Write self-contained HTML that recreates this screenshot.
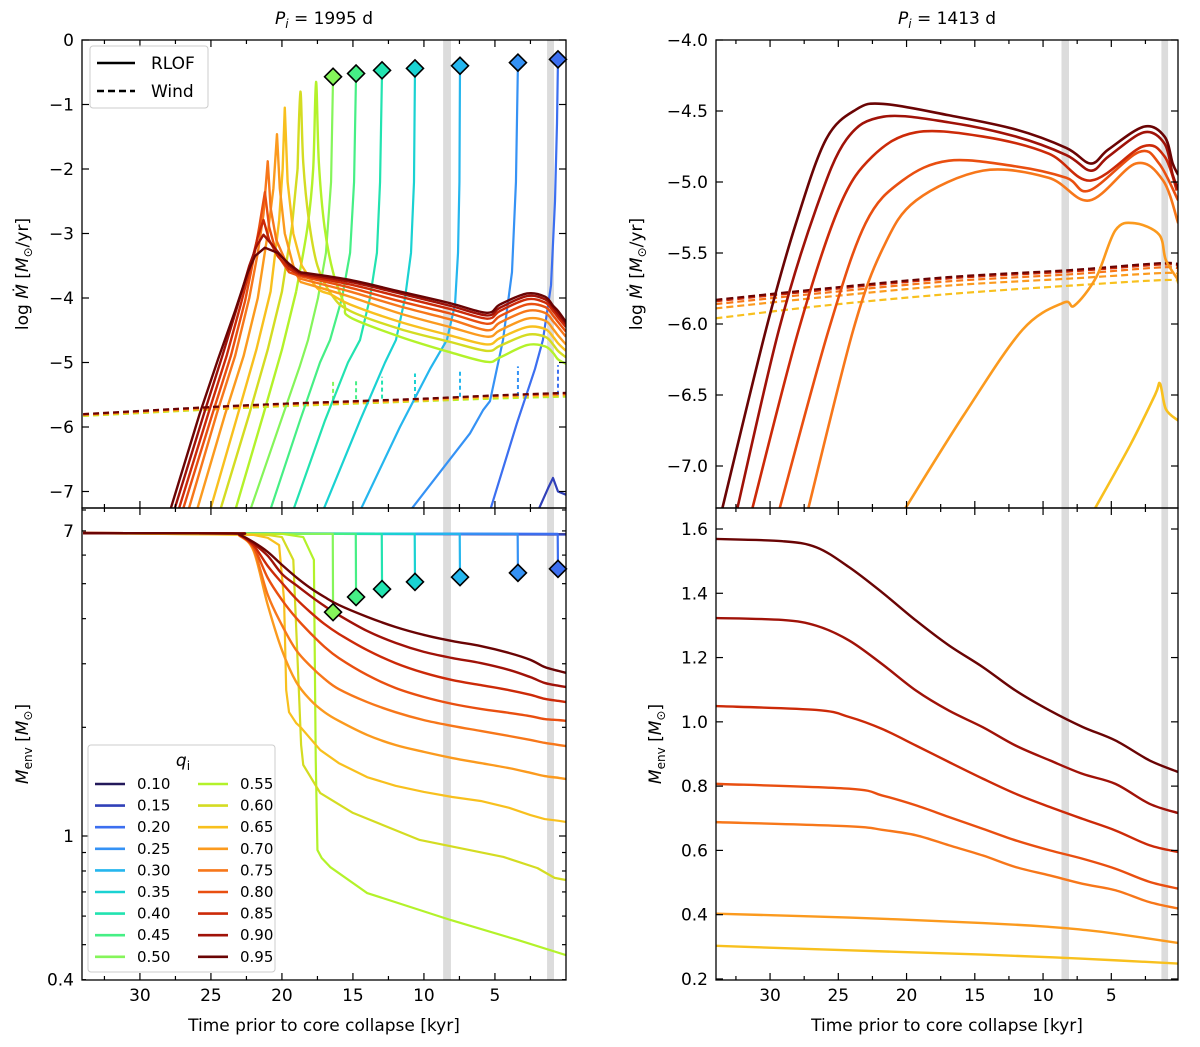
<!DOCTYPE html>
<html><head><meta charset="utf-8"><title>Mass transfer and envelope mass</title>
<style>
html,body{margin:0;padding:0;background:#fff;}
svg{display:block;font-family:"DejaVu Sans","Liberation Sans",sans-serif;}
</style></head>
<body>
<svg id="chart" width="1200" height="1047" viewBox="0 0 1200 1047" xmlns="http://www.w3.org/2000/svg">
<defs>
<clipPath id="c-tl"><rect x="82" y="40" width="484" height="468"/></clipPath>
<clipPath id="c-bl"><rect x="82" y="508" width="484" height="472"/></clipPath>
<clipPath id="c-tr"><rect x="716" y="40" width="462" height="468"/></clipPath>
<clipPath id="c-br"><rect x="716" y="508" width="462" height="472"/></clipPath>
</defs>
<g id="bands"></g>
<g id="series"></g>
<g id="axes"></g>

<text x="324" y="24" font-size="17" text-anchor="middle"><tspan font-style="italic">P</tspan><tspan font-style="italic" font-size="12" dy="4">i</tspan><tspan dy="-4"> = 1995 d</tspan></text>
<text x="947" y="24" font-size="17" text-anchor="middle"><tspan font-style="italic">P</tspan><tspan font-style="italic" font-size="12" dy="4">i</tspan><tspan dy="-4"> = 1413 d</tspan></text>

<text transform="translate(28,274) rotate(-90)" font-size="17" text-anchor="middle">log <tspan font-style="italic">Ṁ</tspan> [<tspan font-style="italic">M</tspan><tspan font-size="12" dy="4">⊙</tspan><tspan dy="-4">/yr]</tspan></text>
<text transform="translate(642,274) rotate(-90)" font-size="17" text-anchor="middle">log <tspan font-style="italic">Ṁ</tspan> [<tspan font-style="italic">M</tspan><tspan font-size="12" dy="4">⊙</tspan><tspan dy="-4">/yr]</tspan></text>
<text transform="translate(28,744) rotate(-90)" font-size="17" text-anchor="middle"><tspan font-style="italic">M</tspan><tspan font-size="12" dy="4">env</tspan><tspan dy="-4"> [</tspan><tspan font-style="italic">M</tspan><tspan font-size="12" dy="4">⊙</tspan><tspan dy="-4">]</tspan></text>
<text transform="translate(661,744) rotate(-90)" font-size="17" text-anchor="middle"><tspan font-style="italic">M</tspan><tspan font-size="12" dy="4">env</tspan><tspan dy="-4"> [</tspan><tspan font-style="italic">M</tspan><tspan font-size="12" dy="4">⊙</tspan><tspan dy="-4">]</tspan></text>

<text x="324" y="1031" font-size="17" text-anchor="middle">Time prior to core collapse [kyr]</text>
<text x="947" y="1031" font-size="17" text-anchor="middle">Time prior to core collapse [kyr]</text>

<g>
<rect x="90" y="46" width="118" height="62" rx="3" fill="#fff" fill-opacity="0.85" stroke="#cccccc" stroke-width="1"/>
<line x1="97" y1="63" x2="135" y2="63" stroke="#000" stroke-width="2.5"/>
<text x="151" y="69" font-size="17">RLOF</text>
<line x1="97" y1="91" x2="135" y2="91" stroke="#000" stroke-width="2.5" stroke-dasharray="7,4"/>
<text x="151" y="97" font-size="17">Wind</text>
</g>
<g id="qlegend">
<rect x="88" y="745" width="187" height="227" rx="3" fill="#fff" fill-opacity="0.85" stroke="#cccccc" stroke-width="1"/>
<text x="183" y="766" font-size="17" text-anchor="middle"><tspan font-style="italic">q</tspan><tspan font-size="12" dy="4">i</tspan></text>
</g>
</svg>
<script>
// ---------- categories ----------
const qLabels = ['0.10','0.15','0.20','0.25','0.30','0.35','0.40','0.45','0.50','0.55','0.60','0.65','0.70','0.75','0.80','0.85','0.90','0.95'];
const qColors = ['#23195a','#3040b8','#3c6ff0','#3592f5','#25b6ee','#1ad2d2','#22e3b0','#46ef85','#85f55a','#b3f22a','#d4dc22','#f8c01e','#fb9a1e','#f7771a','#e94f10','#cc2a08','#a01208','#6a0404'];
// gray bands (kyr)
const bandStart = [8.65, 1.33];
const bandEnd = [8.1, 0.84];

// ---------- top-left: log Mdot RLOF (time kyr, value) ----------
const tl15_t=[1.97,1.26,0.91,0.56,0.0]; const tl15_v=[-7.3,-6.95,-6.79,-7.0,-7.05];
const tl20_t=[5.35,3.45,2.18,1.62,1.05,0.77,0.63,0.56]; const tl20_v=[-7.3,-5.94,-5.1,-4.65,-3.8,-2.5,-1.3,-0.3];
const tl25_t=[10.98,6.76,5.84,5.35,4.43,3.8,3.52,3.38]; const tl25_v=[-7.3,-6.1,-5.74,-5.6,-4.65,-3.6,-2.2,-0.35];
const tl30_t=[14.5,11.69,9.57,8.38,7.81,7.6,7.5,7.46]; const tl30_v=[-7.3,-6.0,-5.1,-4.65,-4.1,-3.3,-2.2,-0.40];
const tl35_t=[17.11,14.5,12.74,11.97,11.33,10.91,10.7,10.63]; const tl35_v=[-7.3,-5.9,-5.0,-4.65,-4.0,-3.3,-2.2,-0.44];
const tl40_t=[19.22,16.97,15.35,14.5,13.8,13.31,13.09,12.95]; const tl40_v=[-7.3,-5.9,-5.0,-4.65,-4.0,-3.3,-2.2,-0.47];
const tl45_t=[20.84,18.73,17.32,16.61,15.77,15.2,14.92,14.78]; const tl45_v=[-7.3,-5.9,-5.0,-4.65,-4.0,-3.3,-2.2,-0.52];
const tl50_t=[22.25,20.14,18.73,18.16,17.46,16.9,16.54,16.4]; const tl50_v=[-7.3,-5.95,-5.05,-4.65,-4.0,-3.3,-2.2,-0.57];
const tl55_t=[23.3,21.3,20.0,19.0,18.2,17.8,17.6,17.4,17.0,16.4,15.6,15.2,11.69,8.17,5.56,4.64,2.74,1.47,0.91,0.56,0];
const tl55_v=[-7.3,-5.8,-4.8,-3.9,-2.9,-2.0,-0.65,-1.9,-2.9,-3.6,-4.1,-4.3,-4.6,-4.84,-4.99,-4.92,-4.73,-4.75,-4.85,-4.95,-5.02];
const tl60_t=[24.36,22.3,21.0,20.0,19.3,18.9,18.7,18.5,18.1,17.5,16.5,15.2,11.69,8.17,5.56,4.64,2.74,1.47,0.91,0.56,0];
const tl60_v=[-7.3,-5.8,-4.8,-3.9,-2.9,-2.0,-0.8,-1.9,-2.8,-3.5,-3.95,-4.2,-4.48,-4.68,-4.82,-4.74,-4.57,-4.6,-4.72,-4.82,-4.92];
const tl65_t=[25.07,23.1,21.8,20.8,20.2,19.95,19.8,19.6,19.2,18.6,17.5,16.5,15.2,11.69,8.17,5.56,4.64,2.74,1.47,0.91,0.56,0];
const tl65_v=[-7.3,-5.8,-4.8,-3.9,-2.8,-2.0,-1.05,-2.2,-3.0,-3.5,-3.85,-3.95,-4.1,-4.37,-4.58,-4.72,-4.62,-4.45,-4.48,-4.6,-4.7,-4.82];
const tl70_t=[26.0,24.0,22.7,21.7,21.0,20.6,20.35,20.15,19.8,19.2,18.73,15.2,11.69,8.17,5.56,4.64,2.74,1.47,0.91,0.56,0];
const tl70_v=[-7.3,-5.8,-4.9,-4.0,-3.0,-2.3,-1.46,-2.3,-3.0,-3.5,-3.75,-3.98,-4.24,-4.45,-4.6,-4.5,-4.32,-4.35,-4.48,-4.58,-4.72];
const tl75_t=[26.6,24.6,23.3,22.3,21.7,21.3,21.0,20.8,20.4,19.6,18.73,15.2,11.69,8.17,5.56,4.64,2.74,1.47,0.91,0.56,0];
const tl75_v=[-7.3,-5.8,-4.9,-4.0,-3.3,-2.7,-1.88,-2.6,-3.1,-3.5,-3.7,-3.9,-4.13,-4.33,-4.5,-4.38,-4.2,-4.23,-4.36,-4.45,-4.6];
const tl80_t=[27.0,24.9,23.6,22.6,22.0,21.6,21.2,20.9,20.4,19.5,18.73,15.2,11.69,8.17,5.56,4.64,2.74,1.47,0.91,0.56,0];
const tl80_v=[-7.3,-5.8,-4.9,-4.05,-3.4,-2.9,-2.36,-2.9,-3.3,-3.6,-3.66,-3.84,-4.05,-4.24,-4.4,-4.28,-4.1,-4.14,-4.27,-4.37,-4.52];
const tl85_t=[27.3,25.2,23.9,22.9,22.2,21.7,21.3,20.9,20.3,19.5,18.73,15.2,11.69,8.17,5.56,4.64,2.74,1.47,0.91,0.56,0];
const tl85_v=[-7.3,-5.8,-4.9,-4.1,-3.5,-3.05,-2.79,-3.1,-3.35,-3.55,-3.64,-3.79,-3.98,-4.17,-4.32,-4.2,-4.02,-4.07,-4.2,-4.3,-4.45];
const tl90_t=[27.6,25.5,24.2,23.1,22.3,21.8,21.3,20.6,19.5,18.73,15.2,11.69,8.17,5.56,4.64,2.74,1.47,0.91,0.56,0];
const tl90_v=[-7.3,-5.8,-4.9,-4.1,-3.5,-3.2,-3.02,-3.2,-3.5,-3.62,-3.75,-3.93,-4.12,-4.27,-4.15,-3.97,-4.02,-4.15,-4.25,-4.4];
const tl95_t=[27.88,25.8,24.5,23.3,22.4,21.9,21.2,20.3,19.5,18.73,15.2,11.69,8.17,5.56,4.64,2.74,1.47,0.91,0.56,0];
const tl95_v=[-7.3,-5.8,-4.95,-4.2,-3.6,-3.35,-3.22,-3.3,-3.47,-3.6,-3.72,-3.9,-4.08,-4.23,-4.1,-3.93,-3.98,-4.12,-4.2,-4.37];
// top-left winds
const tlWind_t=[34,25,20,15,10,5,0];
const tlWind55_v=[-5.83,-5.73,-5.68,-5.64,-5.6,-5.56,-5.53];
const tlWind65_v=[-5.82,-5.72,-5.67,-5.63,-5.59,-5.54,-5.51];
const tlWind80_v=[-5.81,-5.70,-5.65,-5.61,-5.57,-5.52,-5.49];
const tlWind95_v=[-5.80,-5.69,-5.64,-5.60,-5.56,-5.51,-5.47];
const windSpikeT=[0.56,3.38,7.46,10.63,12.95,14.78,16.4];
const windSpikeLow=[-5.5,-5.52,-5.53,-5.55,-5.56,-5.57,-5.58];
const windSpikeHigh=[-5.04,-5.06,-5.14,-5.17,-5.22,-5.25,-5.27];

// ---------- bottom-left: log10 Menv ----------
const blHot_t=[34,23.5,23,22,21,20,19,18,17,16,14,12,10,8,6,4,2.5,1.5,0.5,0];
const bl95_v=[.839,.838,.835,.814,.787,.751,.717,.687,.662,.640,.607,.579,.557,.540,.526,.507,.488,.468,.457,.452];
const bl90_v=[.839,.838,.835,.810,.776,.726,.695,.665,.637,.612,.568,.535,.510,.493,.479,.460,.440,.424,.416,.413];
const bl85_v=[.839,.838,.834,.805,.748,.701,.657,.620,.587,.560,.515,.479,.452,.432,.418,.404,.391,.380,.374,.371];
const bl80_v=[.839,.838,.834,.800,.715,.654,.604,.562,.524,.493,.446,.410,.385,.366,.352,.341,.332,.324,.321,.319];
const bl75_v=[.839,.838,.833,.795,.668,.584,.515,.471,.435,.407,.371,.343,.321,.305,.291,.277,.266,.258,.252,.249];
const bl70_v=[.839,.838,.832,.790,.640,.515,.427,.377,.343,.319,.280,.252,.233,.216,.202,.188,.175,.166,.161,.158];
const bl65_t=[34,22,21,20.2,19.85,19.7,19.5,19,18.7,17.3,16,14,12,10,8,6,4,2.5,1.5,0.5,0];
const bl65_v=[.839,.834,.826,.806,.654,.404,.343,.313,.302,.238,.202,.163,.139,.122,.108,.097,.078,.058,.047,.042,.039];
const bl60_t=[34,21,20,19.2,18.78,18.65,18.5,17.3,15.0,10.3,4.4,2.0,0.8,0];
const bl60_v=[.839,.834,.828,.765,.377,.252,.197,.119,.064,-.011,-.058,-.089,-.116,-.122];
const bl55_t=[34,20,18.5,17.75,17.62,17.5,17.2,16.6,14.0,8.1,3.4,0];
const bl55_v=[.839,.837,.828,.765,.211,-.039,-.061,-.086,-.158,-.233,-.288,-.330];
const blFlat_v=0.839;
const blCold_q=['0.20','0.25','0.30','0.35','0.40','0.45','0.50'];
const blColdEnd_t=[0.56,3.38,7.46,10.63,12.95,14.78,16.4];
const blColdEnd_v=[.740,.729,.717,.704,.684,.662,.620];

// ---------- top-right ----------
const tr95_t=[33.5,30.3,28.1,25.9,23.7,21.7,16.9,12.0,8.3,6.5,5.2,2.6,1.1,0.5,0.1];
const tr95_v=[-7.3,-6.04,-5.29,-4.70,-4.49,-4.45,-4.53,-4.63,-4.76,-4.87,-4.77,-4.61,-4.68,-4.87,-4.95];
const tr90_t=[32.4,29.35,26.6,24.4,21.7,16.9,12.0,8.3,6.5,5.2,2.6,1.1,0.5,0.1];
const tr90_v=[-7.3,-6.04,-5.18,-4.70,-4.54,-4.58,-4.68,-4.81,-4.92,-4.82,-4.65,-4.73,-4.95,-5.05];
const tr85_t=[31.3,27.9,24.95,22.5,19.3,14.4,9.6,6.5,2.7,1.1,0.2];
const tr85_v=[-7.3,-6.04,-5.18,-4.82,-4.65,-4.68,-4.80,-4.99,-4.75,-4.82,-5.06];
const tr80_t=[29.3,25.7,23.0,20.3,16.9,12.0,8.3,6.6,3.0,1.5,0.1];
const tr80_v=[-7.3,-6.04,-5.29,-4.99,-4.85,-4.89,-4.97,-5.06,-4.79,-4.87,-5.13];
const tr75_t=[27.2,23.9,21.7,19.3,14.4,9.6,6.6,3.2,1.2,0.1];
const tr75_v=[-7.3,-6.04,-5.46,-5.13,-4.92,-4.97,-5.13,-4.87,-4.99,-5.29];
const tr70_t=[20.1,15.8,11.5,8.5,7.7,6.1,4.7,3.3,1.5,1.0,0.1];
const tr70_v=[-7.3,-6.64,-6.04,-5.85,-5.87,-5.67,-5.34,-5.29,-5.37,-5.55,-5.69];
const tr65_t=[6.2,3.6,1.8,1.43,1.0,0.1];
const tr65_v=[-7.3,-6.85,-6.5,-6.42,-6.6,-6.68];
const trWind_t=[34,26,17,8,1,0.1];
const trWind95_v=[-5.83,-5.75,-5.67,-5.62,-5.57,-5.6];
const trWind85_v=[-5.84,-5.76,-5.68,-5.63,-5.58,-5.61];
const trWind75_v=[-5.86,-5.78,-5.7,-5.65,-5.6,-5.63];
const trWind70_v=[-5.89,-5.81,-5.73,-5.68,-5.64,-5.66];
const trWind65_v=[-5.96,-5.87,-5.79,-5.73,-5.69,-5.71];

// ---------- bottom-right ----------
const brA_t=[33.96,29.1,26.6,24.2,21.8,19.3,16.9,14.4,12.0,9.5,7.1,4.7,2.2,0.1];
const br95_v=[1.569,1.562,1.543,1.481,1.403,1.315,1.238,1.170,1.097,1.035,0.984,0.942,0.880,0.844];
const br90_v=[1.323,1.317,1.299,1.253,1.180,1.097,1.035,0.983,0.926,0.880,0.838,0.807,0.745,0.716];
const brB_t=[33.96,26.6,24.2,21.8,19.3,16.9,14.4,12.0,9.5,7.1,4.7,2.2,0.1];
const br85_v=[1.049,1.037,1.015,0.978,0.926,0.875,0.823,0.776,0.735,0.698,0.662,0.616,0.595];
const brC_t=[33.96,24.2,21.8,19.3,16.9,14.4,12.0,9.5,7.1,4.7,2.2,0.1];
const br80_v=[0.807,0.792,0.771,0.740,0.704,0.667,0.631,0.600,0.574,0.543,0.502,0.481];
const br75_v=[0.688,0.675,0.664,0.647,0.616,0.584,0.548,0.522,0.496,0.476,0.439,0.419];
const br70_t=[33.96,24.2,14.4,9.5,7.1,4.7,0.1];
const br70_v=[0.403,0.391,0.374,0.362,0.353,0.341,0.312];
const br65_t=[33.96,24.2,14.4,7.1,0.1];
const br65_v=[0.303,0.289,0.276,0.263,0.248];

// ---------- axes ----------
const xL = t => 82 + (34.08 - t) * 14.2;
const xR = t => 716 + (33.96 - t) * 13.65;
const yTL = v => 40 - v * 64.5;
const yBL = lg => 836 - lg * 361;
const yTR = v => 40 + (-4 - v) * 142;
const yBR = v => 529 + (1.6 - v) * 321.4;

const NS = 'http://www.w3.org/2000/svg';
const series = document.getElementById('series');
const axes = document.getElementById('axes');
function mk(tag, attrs, parent){ const e=document.createElementNS(NS,tag); for(const k in attrs) e.setAttribute(k,attrs[k]); (parent||series).appendChild(e); return e; }
function colorOf(q){ return qColors[qLabels.indexOf(q)]; }
function pathD(ts, vs, fx, fy, smooth){
  const p = ts.map((t,i)=>[fx(t), fy(vs[i])]);
  if(!smooth || p.length<3) return 'M'+p.map(a=>a[0].toFixed(2)+','+a[1].toFixed(2)).join(' L');
  let d='M'+p[0][0].toFixed(2)+','+p[0][1].toFixed(2);
  for(let i=0;i<p.length-1;i++){
    const p0=p[Math.max(0,i-1)], p1=p[i], p2=p[i+1], p3=p[Math.min(p.length-1,i+2)];
    const c1=[p1[0]+(p2[0]-p0[0])/6, p1[1]+(p2[1]-p0[1])/6];
    const c2=[p2[0]-(p3[0]-p1[0])/6, p2[1]-(p3[1]-p1[1])/6];
    d+=' C'+c1[0].toFixed(2)+','+c1[1].toFixed(2)+' '+c2[0].toFixed(2)+','+c2[1].toFixed(2)+' '+p2[0].toFixed(2)+','+p2[1].toFixed(2);
  }
  return d;
}
function groupFor(panel){ const g=mk('g',{'clip-path':'url(#c-'+panel+')'}); return g; }

// bands
const bandsG = document.getElementById('bands');
[['tl',xL,40,508],['bl',xL,508,980],['tr',xR,40,508],['br',xR,508,980]].forEach(([pn,fx,y0,y1])=>{
  bandStart.forEach((s,i)=>{
    const r = mk('rect',{x:fx(s),y:y0,width:fx(bandEnd[i])-fx(s),height:y1-y0,fill:'#dcdcdc'},bandsG);
    
    
  });
});

const gTL=groupFor('tl'), gBL=groupFor('bl'), gTR=groupFor('tr'), gBR=groupFor('br');
function line(g, ts, vs, fx, fy, q, smooth, dash, w, name){
  const a={d:pathD(ts,vs,fx,fy,smooth),fill:'none',stroke:colorOf(q),'stroke-width':w||2.2,'stroke-linejoin':'round'};
  if(dash) a['stroke-dasharray']=dash;
  const e=mk('path',a,g);
  
  
  return e;
}
function diamond(g, x, y, q, name){
  const e=mk('rect',{x:x-6,y:y-6,width:12,height:12,fill:colorOf(q),stroke:'#000','stroke-width':1.6,transform:'rotate(45 '+x+' '+y+')'},g);
  
  
}

// ---- top-left winds
[['0.55',tlWind55_v],['0.65',tlWind65_v],['0.80',tlWind80_v]].forEach(([q,v])=>line(gTL,tlWind_t,v,xL,yTL,q,true,'6,4',2,'wind-line-left-q'+q));
windSpikeT.forEach((t,i)=>{
  const q=blCold_q[i];
  line(gTL,[t,t],[windSpikeLow[i],windSpikeHigh[i]],xL,yTL,q,false,'4,3',2,'wind-spike-q'+q);
});
// top-left RLOF, cold first
const tlCold=[['0.15',tl15_t,tl15_v],['0.20',tl20_t,tl20_v],['0.25',tl25_t,tl25_v],['0.30',tl30_t,tl30_v],['0.35',tl35_t,tl35_v],['0.40',tl40_t,tl40_v],['0.45',tl45_t,tl45_v],['0.50',tl50_t,tl50_v]];
const tlHot=[['0.55',tl55_t,tl55_v],['0.60',tl60_t,tl60_v],['0.65',tl65_t,tl65_v],['0.70',tl70_t,tl70_v],['0.75',tl75_t,tl75_v],['0.80',tl80_t,tl80_v],['0.85',tl85_t,tl85_v],['0.90',tl90_t,tl90_v],['0.95',tl95_t,tl95_v]];
tlCold.forEach(([q,t,v])=>line(gTL,t,v,xL,yTL,q,false,null,2.2,'rlof-line-q'+q));
tlHot.forEach(([q,t,v])=>{
  // rise + spike as polyline, decline phase smoothed
  let k=t.findIndex(x=>x<=19.0);
  if(k<1) k=1;
  line(gTL,t.slice(0,k+1),v.slice(0,k+1),xL,yTL,q,false,null,2.4,'rlof-rise-q'+q);
  line(gTL,t.slice(k),v.slice(k),xL,yTL,q,true,null,2.4,'rlof-plateau-q'+q);
});
line(gTL,tlWind_t,tlWind95_v,xL,yTL,'0.95',true,'6,4',2.2,'wind-line-left-q0.95');
tlCold.forEach(([q,t,v])=>{ if(q!=='0.15'){ const n=t.length-1; diamond(axes,xL(t[n]),yTL(v[n]),q,'rlof-end-marker-top-q'+q);} });

// ---- bottom-left
line(gBL,[34,0],[blFlat_v,0.836],xL,yBL,'0.10',false,null,2.2,'menv-line-q0.10');
line(gBL,[34,0],[blFlat_v,0.835],xL,yBL,'0.15',false,null,2.2,'menv-line-q0.15');
blCold_q.forEach((q,i)=>{
  line(gBL,[34,blColdEnd_t[i]+0.02,blColdEnd_t[i]],[blFlat_v,blFlat_v-0.002,blColdEnd_v[i]],xL,yBL,q,false,null,2.2,'menv-line-q'+q);
});
line(gBL,bl55_t,bl55_v,xL,yBL,'0.55',false,null,2.2,'menv-line-q0.55');
line(gBL,bl60_t,bl60_v,xL,yBL,'0.60',false,null,2.2,'menv-line-q0.60');
line(gBL,bl65_t,bl65_v,xL,yBL,'0.65',false,null,2.2,'menv-line-q0.65');
[['0.70',bl70_v],['0.75',bl75_v],['0.80',bl80_v],['0.85',bl85_v],['0.90',bl90_v],['0.95',bl95_v]].forEach(([q,v])=>line(gBL,blHot_t,v,xL,yBL,q,true,null,2.4,'menv-line-q'+q));
blCold_q.forEach((q,i)=>diamond(axes,xL(blColdEnd_t[i]),yBL(blColdEnd_v[i]),q,'menv-end-marker-q'+q));

// ---- top-right
[['0.65',trWind65_v],['0.70',trWind70_v],['0.75',trWind75_v],['0.85',trWind85_v],['0.95',trWind95_v]].forEach(([q,v])=>line(gTR,trWind_t,v,xR,yTR,q,true,'7,4',2.2,'wind-line-right-q'+q));
[['0.65',tr65_t,tr65_v],['0.70',tr70_t,tr70_v],['0.75',tr75_t,tr75_v],['0.80',tr80_t,tr80_v],['0.85',tr85_t,tr85_v],['0.90',tr90_t,tr90_v],['0.95',tr95_t,tr95_v]].forEach(([q,t,v])=>line(gTR,t,v,xR,yTR,q,true,null,2.6,'rlof-line-right-q'+q));

// ---- bottom-right
[['0.65',br65_t,br65_v],['0.70',br70_t,br70_v],['0.75',brC_t,br75_v],['0.80',brC_t,br80_v],['0.85',brB_t,br85_v],['0.90',brA_t,br90_v],['0.95',brA_t,br95_v]].forEach(([q,t,v])=>line(gBR,t,v,xR,yBR,q,true,null,2.4,'menv-line-right-q'+q));

// ---------- frames & ticks ----------
const xMajor=[30,25,20,15,10,5];
const xMinor=[32.5,27.5,22.5,17.5,12.5,7.5,2.5];
const tlTicks=[0,-1,-2,-3,-4,-5,-6,-7];
const tlTickLabels=['0','−1','−2','−3','−4','−5','−6','−7'];
const trTicks=[-4.0,-4.5,-5.0,-5.5,-6.0,-6.5,-7.0];
const trTickLabels=['−4.0','−4.5','−5.0','−5.5','−6.0','−6.5','−7.0'];
const brTicks=[1.6,1.4,1.2,1.0,0.8,0.6,0.4,0.2];
const brTickLabels=['1.6','1.4','1.2','1.0','0.8','0.6','0.4','0.2'];
const blMinorVals=[0.4,0.5,0.6,0.7,0.8,0.9,2,3,4,5,6,7,8];
const blLabelVals=[7,1,0.4];
const blLabels=['7','1','0.4'];

function tick(x1,y1,x2,y2,name){ const e=mk('line',{x1,y1,x2,y2,stroke:'#000','stroke-width':1.2},axes);   }
function label(x,y,txt,anchor,name){ const e=mk('text',{x,y,'font-size':17,'text-anchor':anchor},axes); e.textContent=txt;   }
function frame(x0,y0,x1,y1,name){ const e=mk('rect',{x:x0,y:y0,width:x1-x0,height:y1-y0,fill:'none',stroke:'#000','stroke-width':1.3},axes);   }

[['tl',82,566,40,508,xL],['bl',82,566,508,980,xL],['tr',716,1178,40,508,xR],['br',716,1178,508,980,xR]].forEach(([pn,x0,x1,y0,y1,fx])=>{
  frame(x0,y0,x1,y1,'panel-frame-'+pn);
  xMajor.forEach(t=>{ tick(fx(t),y1,fx(t),y1-7,'x-tick-'+pn); tick(fx(t),y0,fx(t),y0+7,'x-tick-top-'+pn); });
  xMinor.forEach(t=>{ tick(fx(t),y1,fx(t),y1-4,'x-minor-tick-'+pn); tick(fx(t),y0,fx(t),y0+4,'x-minor-tick-top-'+pn); });
  if(pn==='bl'||pn==='br') xMajor.forEach(t=>label(fx(t),1001,String(t),'middle','x-tick-label-'+pn));
});
tlTicks.forEach((v,i)=>{ const y=yTL(v); tick(82,y,89,y,'y-tick-tl'); tick(566,y,559,y,'y-tick-right-tl'); label(74,y+6,tlTickLabels[i],'end','y-tick-label-tl'); });
trTicks.forEach((v,i)=>{ const y=yTR(v); tick(716,y,723,y,'y-tick-tr'); tick(1178,y,1171,y,'y-tick-right-tr'); label(708,y+6,trTickLabels[i],'end','y-tick-label-tr'); });
brTicks.forEach((v,i)=>{ const y=yBR(v); tick(716,y,723,y,'y-tick-br'); tick(1178,y,1171,y,'y-tick-right-br'); label(708,y+6,brTickLabels[i],'end','y-tick-label-br'); });
tick(82,yBL(0),89,yBL(0),'y-major-tick-bl'); tick(566,yBL(0),559,yBL(0),'y-major-tick-right-bl');
blMinorVals.forEach(m=>{ const y=yBL(Math.log10(m)); tick(82,y,86,y,'y-minor-tick-bl'); tick(566,y,562,y,'y-minor-tick-right-bl'); });
blLabelVals.forEach((m,i)=>label(74,yBL(Math.log10(m))+6,blLabels[i],'end','y-tick-label-bl'));

// ---------- q legend ----------
const ql=document.getElementById('qlegend');
qLabels.forEach((q,i)=>{
  const col=i<9?0:1, row=i%9;
  const x=col?198:95, y=784+row*21.6;
  const s=mk('line',{x1:x,y1:y,x2:x+30,y2:y,stroke:qColors[i],'stroke-width':2.6},ql);
  
  
  const t=mk('text',{x:x+42,y:y+5,'font-size':15},ql);
  t.textContent=q;
  
  
});
</script>
</body></html>
